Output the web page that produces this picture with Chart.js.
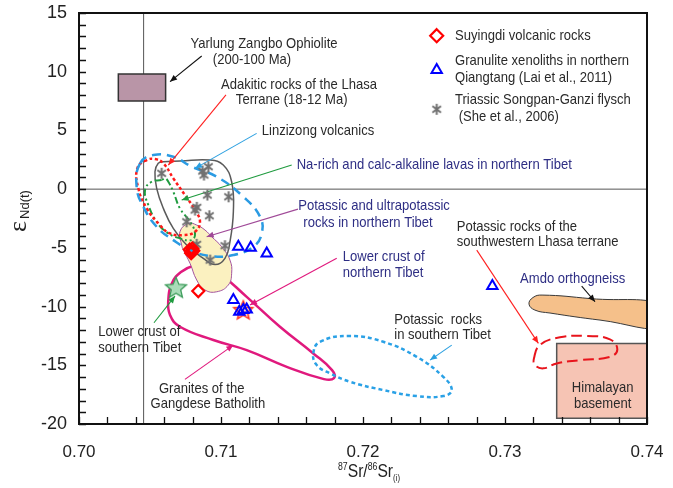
<!DOCTYPE html>
<html><head><meta charset="utf-8">
<script src="https://cdn.jsdelivr.net/npm/chart.js@4.4.1/dist/chart.umd.min.js"></script>
<style>html,body{margin:0;padding:0;background:#fff;}</style>
</head><body>
<canvas id="c" width="673" height="488"></canvas>
<script>
// ---------------- DATA ----------------
const xTickLabels = ['0.70','0.71','0.72','0.73','0.74'];
const yTickLabels = ['15','10','5','0','-5','-10','-15','-20'];

// Suyingdi volcanic rocks (red diamonds)
const suyingdiX = [0.70780, 0.70805, 0.70790, 0.70798, 0.70792, 0.70840];
const suyingdiY = [-5.15, -5.25, -5.45, -5.05, -5.30, -8.68];
// Granulite xenoliths in northern Qiangtang (blue triangles)
const granuliteX = [0.71122, 0.71209, 0.71322, 0.71087, 0.71129, 0.71157, 0.71181, 0.72911];
const granuliteY = [-4.91, -4.99, -5.47, -9.45, -10.44, -10.30, -10.24, -8.25];
// Triassic Songpan-Ganzi flysch (grey asterisks)
const flyschX = [0.70582, 0.70871, 0.70911, 0.70880, 0.70904, 0.71054, 0.70817, 0.70830, 0.70918, 0.70758, 0.71028, 0.70923, 0.70829];
const flyschY = [1.35, 1.54, 1.91, 1.20, -0.50, -0.65, -1.78, -1.55, -2.27, -2.78, -4.82, -6.04, -4.70];
// Lower crust (stars)
const lowerSouthX = [0.70683];
const lowerSouthY = [-8.45];
const lowerNorthX = [0.71157];
const lowerNorthY = [-10.36];

// Fields (closed outlines)
const linzizongX = [0.70430,0.70523,0.70664,0.70794,0.70970,0.71157,0.71275,0.71287,0.71227,0.71087,0.70923,0.70782,0.70664,0.70547,0.70453,0.70406];
const linzizongY = [2.20,2.90,2.76,1.91,1.06,-0.65,-2.35,-3.77,-4.91,-5.61,-5.70,-5.19,-4.34,-3.20,-1.50,0.20];
const adakiticX = [0.70477,0.70411,0.70418,0.70477,0.70570,0.70641,0.70735,0.70817,0.70852,0.70817,0.70746,0.70664,0.70594,0.70535];
const adakiticY = [2.48,1.77,0.07,-1.64,-3.06,-3.77,-3.91,-3.63,-2.78,-1.78,-0.50,0.92,2.20,2.56];
const naRichX = [0.70582,0.70512,0.70465,0.70488,0.70547,0.70618,0.70711,0.70794,0.70817,0.70782,0.70711,0.70664,0.70629,0.70606];
const naRichY = [0.78,0.63,-0.08,-1.35,-2.78,-3.68,-4.19,-4.34,-3.77,-2.78,-1.64,-0.22,0.63,0.92];
const flyschFieldX = [0.70558,0.70535,0.70547,0.70594,0.70664,0.70758,0.70875,0.70958,0.71028,0.71063,0.71087,0.71075,0.71016,0.70923,0.70711,0.70594];
const flyschFieldY = [2.20,1.48,0.07,-1.64,-3.34,-4.76,-5.89,-6.42,-5.89,-4.48,-1.93,0.63,2.05,2.48,2.39,2.33];
const potassicNorthX = [0.70770,0.70711,0.70723,0.70735,0.70782,0.70829,0.70887,0.70970,0.71051,0.71075,0.71063,0.71005,0.70934,0.70887,0.70829];
const potassicNorthY = [-2.91,-3.63,-4.76,-5.19,-6.32,-7.74,-8.59,-8.74,-8.17,-7.17,-6.04,-4.91,-4.05,-3.48,-3.06];
const gangdeseX = [0.70629,0.70655,0.70718,0.70803,0.70887,0.70979,0.71181,0.71415,0.71650,0.71782,0.71796,0.71725,0.71463,0.71181,0.70946,0.70711,0.70641];
const gangdeseY = [-9.45,-8.00,-7.06,-6.55,-6.55,-7.06,-9.17,-11.72,-13.99,-15.41,-16.09,-16.18,-15.13,-13.71,-12.85,-11.72,-10.72];
const potassicSouthX = [0.71650,0.71697,0.71908,0.72143,0.72378,0.72565,0.72625,0.72565,0.72378,0.72143,0.71908,0.71768,0.71674];
const potassicSouthY = [-13.99,-13.00,-12.51,-13.00,-14.28,-15.98,-17.11,-17.62,-17.62,-17.11,-16.40,-15.69,-14.98];
const potassicSWX = [0.73204,0.73246,0.73387,0.73575,0.73739,0.73791,0.73739,0.73528,0.73364,0.73270,0.73211];
const potassicSWY = [-14.41,-13.28,-12.62,-12.51,-12.79,-13.65,-14.28,-14.56,-14.84,-15.26,-14.98];
const amdoX = [0.73169,0.73197,0.73261,0.73599,0.74150,0.74150,0.73669,0.73317,0.73211];
const amdoY = [-9.79,-9.23,-9.02,-9.32,-9.95,-11.80,-11.15,-10.55,-10.30];
const ophioliteX = [0.70277,0.70610,0.70610,0.70277];
const ophioliteY = [9.80,9.80,7.50,7.50];
const himalayaX = [0.73364,0.74000,0.74000,0.73364];
const himalayaY = [-13.14,-13.14,-19.52,-19.52];

// Reference lines
const refVertX = [0.70455, 0.70455];
const refVertY = [-20, 15];
const refHorX = [0.70, 0.74];
const refHorY = [0, 0];

// Annotation arrows [fromX, fromY, toX, toY]
const arrowLines = [
  [0.70864, 11.34, 0.70641, 9.15],
  [0.71035, 8.02, 0.70629, 2.05],
  [0.71251, 4.75, 0.70817, 1.77],
  [0.71498, 2.05, 0.70723, -0.93],
  [0.71542, -1.70, 0.70899, -4.05],
  [0.72801, -5.19, 0.73235, -13.13],
  [0.71815, -5.89, 0.71204, -9.87],
  [0.73540, -8.25, 0.73634, -9.59],
  [0.72625, -13.28, 0.72472, -14.56],
  [0.70528, -11.38, 0.70676, -9.11],
  [0.70746, -16.20, 0.71087, -13.28]
];
const arrowColors = ['#111','#ff2020','#2a9fe0','#1f9b3f','#a04a98','#ff2020','#e0197d','#111','#2a9fe0','#1f9b3f','#e0197d'];

// Annotation texts [text, x, y, align, colourKey]
const noteTexts = [
  ['Yarlung Zangbo Ophiolite', 0.71303, 12.36, 'center', 'g'],
  ['(200-100 Ma)', 0.71218, 11.00, 'center', 'g'],
  ['Adakitic rocks of the Lhasa', 0.71549, 8.87, 'center', 'g'],
  ['Terrane (18-12 Ma)', 0.71498, 7.59, 'center', 'g'],
  ['Linzizong volcanics', 0.71287, 4.95, 'left', 'g'],
  ['Na-rich and calc-alkaline lavas in northern Tibet', 0.71533, 2.05, 'left', 'n'],
  ['Potassic and ultrapotassic', 0.71544, -1.44, 'left', 'n'],
  ['rocks in northern Tibet', 0.71580, -2.86, 'left', 'n'],
  ['Potassic rocks of the', 0.72660, -3.20, 'left', 'g'],
  ['southwestern Lhasa terrane', 0.72660, -4.48, 'left', 'g'],
  ['Lower crust of', 0.71857, -5.76, 'left', 'n'],
  ['northern Tibet', 0.71857, -7.12, 'left', 'n'],
  ['Amdo orthogneiss', 0.73106, -7.60, 'left', 'n'],
  ['Potassic  rocks', 0.72220, -11.09, 'left', 'g'],
  ['in southern Tibet', 0.72220, -12.43, 'left', 'g'],
  ['Lower crust of', 0.70136, -12.15, 'left', 'g'],
  ['southern Tibet', 0.70136, -13.48, 'left', 'g'],
  ['Granites of the', 0.70864, -16.97, 'center', 'g'],
  ['Gangdese Batholith', 0.70908, -18.25, 'center', 'g'],
  ['Himalayan', 0.73688, -16.88, 'center', 'g'],
  ['basement', 0.73688, -18.25, 'center', 'g']
];

// Legend (in data coordinates)
const legendMarkerX = 0.72519;
const legendTextX = 0.72648;
const legendRows = [
  ['diamond', 13.07, ['Suyingdi volcanic rocks'], [13.07]],
  ['triangle', 10.14, ['Granulite xenoliths in northern', 'Qiangtang (Lai et al., 2011)'], [10.91, 9.44]],
  ['asterisk', 6.80, ['Triassic Songpan-Ganzi flysch', ' (She et al., 2006)'], [7.59, 6.12]]
];

// ---------------- STYLE HELPERS ----------------
const TEXT_GREY = '#2a2a2a';
const TEXT_NAVY = '#2e2e84';
const LABEL_FONT = '15px "Liberation Sans", Arial, sans-serif';
const SQUEEZE = 0.87;

function pts(xs, ys) { return xs.map((x, i) => ({x: x, y: ys[i]})); }

function makeAsterisk(size, color, lw) {
  const c = document.createElement('canvas'); c.width = size; c.height = size;
  const g = c.getContext('2d'); g.strokeStyle = color; g.lineWidth = lw;
  const m = size / 2, r = size / 2 - 1, d = r * 0.78;
  g.beginPath();
  g.moveTo(m, m - r); g.lineTo(m, m + r);
  g.moveTo(m - d, m - d * 0.75); g.lineTo(m + d, m + d * 0.75);
  g.moveTo(m - d, m + d * 0.75); g.lineTo(m + d, m - d * 0.75);
  g.stroke();
  return c;
}
function makeStar(R, fill, stroke, lw) {
  const s = Math.ceil(R * 2 + 4);
  const c = document.createElement('canvas'); c.width = s; c.height = s;
  const g = c.getContext('2d'); const m = s / 2;
  g.beginPath();
  for (let i = 0; i < 10; i++) {
    const ang = -Math.PI / 2 + i * Math.PI / 5;
    const r = (i % 2) ? R * 0.45 : R;
    const px = m + r * Math.cos(ang), py = m + r * Math.sin(ang);
    if (i === 0) g.moveTo(px, py); else g.lineTo(px, py);
  }
  g.closePath();
  g.fillStyle = fill; g.fill();
  g.strokeStyle = stroke; g.lineWidth = lw; g.stroke();
  return c;
}
const asteriskImg = makeAsterisk(13, '#707070', 2);
const greenStar = makeStar(11, '#a9dcb8', '#3c9c5a', 1.3);
const redStar = makeStar(10, 'rgba(255,170,130,0.55)', '#ff2a1a', 1.4);

function field(xs, ys, color, width, dash, order, fillColor) {
  return {
    data: pts(xs, ys), closed: true, showLine: true, pointRadius: 0,
    tension: 0.45, borderColor: color, borderWidth: width, borderDash: dash || [],
    backgroundColor: fillColor || 'transparent', fill: fillColor ? 'shape' : false, order: order
  };
}
function box(xs, ys, color, width, fillColor, order) {
  return {
    data: pts(xs, ys), closed: true, showLine: true, pointRadius: 0, tension: 0,
    borderColor: color, borderWidth: width, backgroundColor: fillColor, fill: 'shape', order: order
  };
}

const datasets = [
  // point series
  {data: pts(granuliteX, granuliteY), showLine: false, pointStyle: 'triangle', pointRadius: 6,
   pointBorderColor: '#0000ff', pointBackgroundColor: 'rgba(255,255,255,0)', pointBorderWidth: 2, order: 0},
  {data: pts(suyingdiX, suyingdiY), showLine: false, pointStyle: 'rectRot', pointRadius: 6,
   pointBorderColor: '#ff0000', pointBackgroundColor: 'rgba(255,255,255,0)', pointBorderWidth: 2.2, order: 0},
  {data: pts(flyschX, flyschY), showLine: false, pointStyle: asteriskImg, pointRadius: 6, order: 1},
  {data: pts(lowerSouthX, lowerSouthY), showLine: false, pointStyle: greenStar, pointRadius: 10, order: 1},
  {data: pts(lowerNorthX, lowerNorthY), showLine: false, pointStyle: redStar, pointRadius: 10, order: 2},
  // fields
  field(linzizongX, linzizongY, '#2b9be3', 2.5, [9, 6], 4),
  field(adakiticX, adakiticY, '#ff1a1a', 2.5, [3, 2.5], 4),
  field(naRichX, naRichY, '#1f9b3f', 2, [7, 3, 2, 3, 2, 3], 4),
  field(flyschFieldX, flyschFieldY, '#5a5a5a', 1.5, [], 5),
  field(potassicSouthX, potassicSouthY, '#2aa1e6', 2.5, [4, 3], 4),
  field(potassicSWX, potassicSWY, '#e8141c', 2, [11, 5], 4),
  field(potassicNorthX, potassicNorthY, '#a4559e', 1, [], 7, '#fbf1c0'),
  field(gangdeseX, gangdeseY, '#e0197d', 2.5, [], 8),
  field(amdoX, amdoY, '#3a3a3a', 1, [], 6, '#f5c08a'),
  box(ophioliteX, ophioliteY, '#333', 1.5, '#b995a7', 6),
  box(himalayaX, himalayaY, '#555', 1.5, '#f6c4b4', 6),
  // reference lines
  {data: pts(refVertX, refVertY), showLine: true, pointRadius: 0, borderColor: '#555', borderWidth: 1, order: 20},
  {data: pts(refHorX, refHorY), showLine: true, pointRadius: 0, borderColor: '#555', borderWidth: 1, order: 20}
];
arrowLines.forEach((a, i) => {
  datasets.push({data: pts([a[0], a[2]], [a[1], a[3]]), showLine: true, pointRadius: 0,
    borderColor: arrowColors[i], borderWidth: 1.1, arrowHead: true, order: 3});
});

// close outlines into smooth loops
const loopPlugin = {
  id: 'loopPlugin',
  afterDatasetUpdate(chart, args) {
    const ds = chart.data.datasets[args.index];
    const el = args.meta.dataset;
    if (ds && ds.closed && el) {
      el._loop = true; el._fullLoop = true;
      el._segments = undefined; el._path = undefined; el._pointsUpdated = false;
    }
  }
};

function squeezedText(c, t, x, y, align, color) {
  c.save(); c.translate(x, y); c.scale(SQUEEZE, 1);
  c.font = LABEL_FONT; c.fillStyle = color; c.textAlign = align; c.textBaseline = 'middle';
  c.fillText(t, 0, 0); c.restore();
}

const decor = {
  id: 'decor',
  beforeDraw(chart) {
    const c = chart.ctx; c.save(); c.fillStyle = '#fff'; c.fillRect(0, 0, chart.width, chart.height); c.restore();
  },
  afterDraw(chart) {
    const c = chart.ctx, xs = chart.scales.x, ys = chart.scales.y, a = chart.chartArea;
    const X = v => xs.getPixelForValue(v), Y = v => ys.getPixelForValue(v);
    // arrow heads
    chart.data.datasets.forEach((ds, i) => {
      if (!ds.arrowHead) return;
      const p = chart.getDatasetMeta(i).data;
      const p0 = p[0], p1 = p[1];
      const ang = Math.atan2(p1.y - p0.y, p1.x - p0.x), L = 7, W = 3;
      c.save(); c.fillStyle = ds.borderColor; c.beginPath();
      c.moveTo(p1.x, p1.y);
      c.lineTo(p1.x - L * Math.cos(ang) + W * Math.sin(ang), p1.y - L * Math.sin(ang) - W * Math.cos(ang));
      c.lineTo(p1.x - L * Math.cos(ang) - W * Math.sin(ang), p1.y - L * Math.sin(ang) + W * Math.cos(ang));
      c.closePath(); c.fill(); c.restore();
    });
    // frame + inward ticks
    c.save();
    c.strokeStyle = '#111'; c.lineWidth = 2;
    c.strokeRect(a.left, a.top, a.right - a.left, a.bottom - a.top);
    c.lineWidth = 1.3; c.beginPath();
    for (let k = 0; k <= 20; k++) {
      const px = Math.round(X(0.70 + k * 0.002)) + 0.5;
      c.moveTo(px, a.bottom); c.lineTo(px, a.bottom - 7);
    }
    for (let v = -20; v <= 15; v++) {
      const py = Math.round(Y(v)) + 0.5;
      c.moveTo(a.left, py); c.lineTo(a.left + 7, py);
    }
    c.stroke(); c.restore();
    // annotation texts
    noteTexts.forEach(n => squeezedText(c, n[0], X(n[1]), Y(n[2]), n[3], n[4] === 'n' ? TEXT_NAVY : TEXT_GREY));
    // legend
    const mx = X(legendMarkerX);
    legendRows.forEach(r => {
      const my = Y(r[1]);
      c.save();
      if (r[0] === 'diamond') {
        c.strokeStyle = '#ff0000'; c.lineWidth = 2.2; c.beginPath();
        c.moveTo(mx, my - 6.5); c.lineTo(mx + 6.5, my); c.lineTo(mx, my + 6.5); c.lineTo(mx - 6.5, my); c.closePath(); c.stroke();
      } else if (r[0] === 'triangle') {
        const R = 6; c.strokeStyle = '#0000ff'; c.lineWidth = 2; c.beginPath();
        c.moveTo(mx, my - R); c.lineTo(mx + R * 0.866, my + R / 2); c.lineTo(mx - R * 0.866, my + R / 2); c.closePath(); c.stroke();
      } else {
        c.drawImage(asteriskImg, mx - asteriskImg.width / 2, my - asteriskImg.height / 2);
      }
      c.restore();
      r[2].forEach((t, j) => squeezedText(c, t, X(legendTextX), Y(r[3][j]), 'left', TEXT_GREY));
    });
    // y axis title: epsilon Nd(t)
    c.save();
    c.translate(20, 211); c.rotate(-Math.PI / 2);
    c.fillStyle = '#222'; c.textBaseline = 'alphabetic'; c.textAlign = 'left';
    c.font = '26px "Liberation Serif", serif'; const w1 = c.measureText('\u03B5').width;
    c.font = '13px "Liberation Sans", Arial'; const w2 = c.measureText('Nd(t)').width;
    const s0 = -(w1 + w2 + 2) / 2;
    c.font = '26px "Liberation Serif", serif'; c.fillText('\u03B5', s0, 6);
    c.font = '13px "Liberation Sans", Arial'; c.fillText('Nd(t)', s0 + w1 + 2, 9);
    c.restore();
    // x axis title: 87Sr/86Sr(i)
    c.save();
    c.fillStyle = '#222'; c.textBaseline = 'alphabetic'; c.textAlign = 'left';
    const parts = [['87', '10px', -7], ['Sr/', '18px', 0], ['86', '10px', -7], ['Sr', '18px', 0], ['(i)', '9px', 4]];
    let total = 0;
    parts.forEach(p => { c.font = p[1] + ' "Liberation Sans", Arial'; p.push(c.measureText(p[0]).width * SQUEEZE); total += p[3]; });
    let cx = (a.left + a.right) / 2 + 6 - total / 2;
    const base = 477;
    parts.forEach(p => {
      c.save(); c.translate(cx, base + p[2]); c.scale(SQUEEZE, 1);
      c.font = p[1] + ' "Liberation Sans", Arial'; c.fillText(p[0], 0, 0); c.restore();
      cx += p[3];
    });
    c.restore();
  }
};

new Chart(document.getElementById('c'), {
  type: 'line',
  data: {datasets: datasets},
  options: {
    responsive: false, animation: false, devicePixelRatio: 1, events: [],
    layout: {padding: {left: 0, right: 26, top: 13, bottom: 0}},
    plugins: {legend: {display: false}, tooltip: {enabled: false}},
    scales: {
      x: {
        type: 'linear', min: 0.70, max: 0.74,
        grid: {display: false, drawTicks: false}, border: {display: false},
        ticks: {stepSize: 0.01, padding: 18, maxRotation: 0, autoSkip: false, color: '#222',
          font: {size: 17, family: '"Liberation Sans", Arial'},
          callback: (v) => xTickLabels.find(l => Math.abs(parseFloat(l) - v) < 1e-6) || ''},
        afterFit: (s) => { s.height = 64; s.paddingLeft = 0; s.paddingRight = 0; }
      },
      y: {
        type: 'linear', min: -20, max: 15,
        grid: {display: false, drawTicks: false}, border: {display: false},
        ticks: {stepSize: 5, padding: 12, color: '#222',
          font: {size: 18, family: '"Liberation Sans", Arial'},
          callback: (v) => yTickLabels.find(l => Math.abs(parseFloat(l) - v) < 1e-6) || ''},
        afterFit: (s) => { s.width = 79; s.paddingTop = 0; s.paddingBottom = 0; }
      }
    }
  },
  plugins: [loopPlugin, decor]
});
</script>
</body></html>
